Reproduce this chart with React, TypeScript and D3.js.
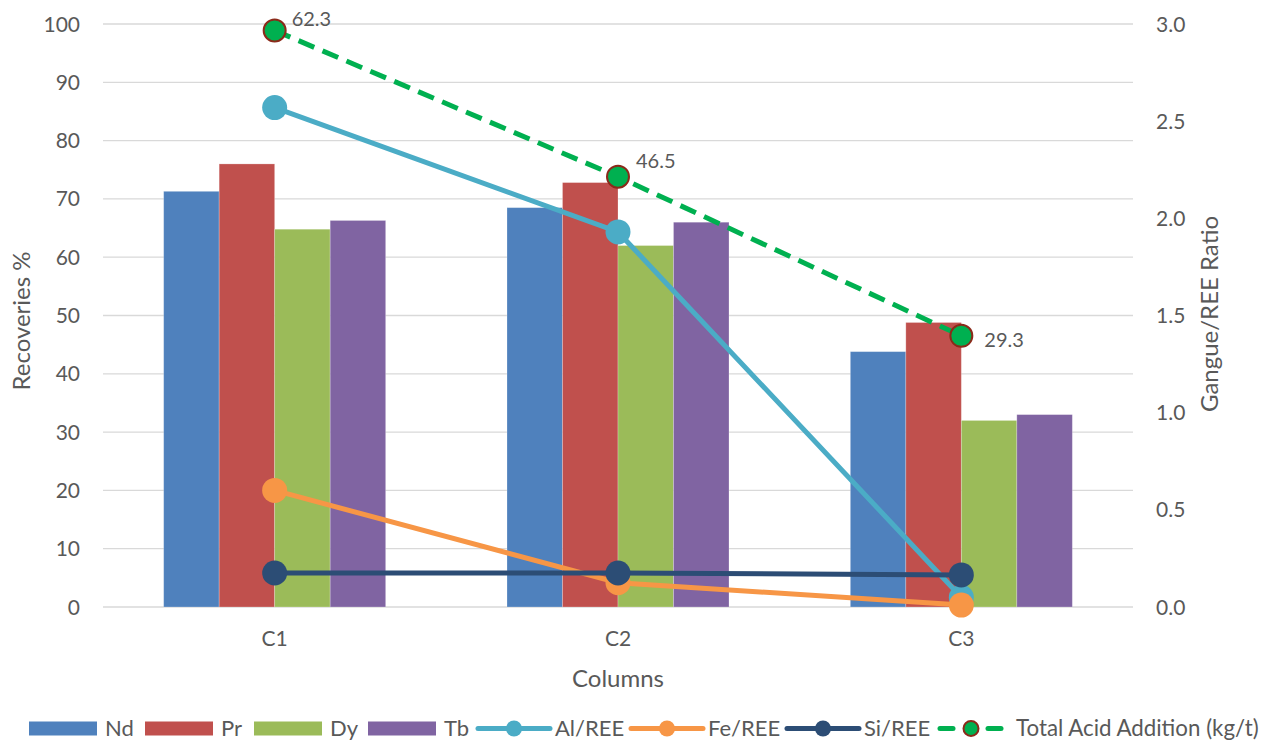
import React from "react";
import * as d3 from "d3";

const categories = ["C1", "C2", "C3"];
const barSeries = ["Nd", "Pr", "Dy", "Tb"];
const ndValues = [71.3, 68.5, 43.8];
const prValues = [76.0, 72.8, 48.8];
const dyValues = [64.8, 62.0, 32.0];
const tbValues = [66.3, 66.0, 33.0];
const alRee = [2.57, 1.93, 0.05];
const feRee = [0.6, 0.125, 0.01];
const siRee = [0.175, 0.175, 0.165];
const totalAcid = [62.3, 46.5, 29.3];
const leftTicks = [0, 10, 20, 30, 40, 50, 60, 70, 80, 90, 100];
const rightTicks = [0, 0.5, 1.0, 1.5, 2.0, 2.5, 3.0];

const barColors = ["#4F81BD", "#C0504D", "#9BBB59", "#8064A2"];
const barData = [ndValues, prValues, dyValues, tbValues];

const W = 1276;
const H = 740;
const plotL = 103;
const plotR = 1133;
const plotT = 24;
const plotB = 607;
const font = "Lato, 'Open Sans', sans-serif";
const textColor = "#595959";
// label offsets for data labels (layout only)
const labelDx = [17, 18, 23];
const labelDy = [-12, -16, 4];

export default function App() {
  const x = d3.scaleBand<string>().domain(categories).range([plotL, plotR]);
  const bw = x.bandwidth();
  const xs = d3
    .scaleBand<string>()
    .domain(barSeries)
    .range([bw / 2 - 111, bw / 2 + 111]);
  const yL = d3.scaleLinear().domain([0, 100]).range([plotB, plotT]);
  const yR = d3.scaleLinear().domain([0, 3]).range([plotB, plotT]);
  const yAcid = d3.scaleLinear().domain([0, 63]).range([plotB, plotT]);
  const cx = (c: string) => (x(c) as number) + bw / 2;

  const lineR = d3
    .line<number>()
    .x((_, i) => cx(categories[i]))
    .y((d) => yR(d));
  const lineA = d3
    .line<number>()
    .x((_, i) => cx(categories[i]))
    .y((d) => yAcid(d));

  const ratioLines = [
    { name: "Al/REE", data: alRee, color: "#4BACC6" },
    { name: "Fe/REE", data: feRee, color: "#F79646" },
    { name: "Si/REE", data: siRee, color: "#2C4D75" },
  ];

  const legendY = 728.5;
  const rectLegend = [
    { name: "Nd", x: 29, color: barColors[0] },
    { name: "Pr", x: 145, color: barColors[1] },
    { name: "Dy", x: 254, color: barColors[2] },
    { name: "Tb", x: 368, color: barColors[3] },
  ];
  const lineLegend = [
    { name: "Al/REE", x: 478, color: "#4BACC6" },
    { name: "Fe/REE", x: 631, color: "#F79646" },
    { name: "Si/REE", x: 787, color: "#2C4D75" },
  ];

  return (
    <svg width={W} height={H} style={{ position: "absolute", left: 0, top: 0, background: "#fff" }}>
      {leftTicks.map((t) => (
        <line key={"g" + t} x1={plotL} x2={plotR} y1={yL(t)} y2={yL(t)} stroke="#D9D9D9" strokeWidth={1.3} />
      ))}
      {leftTicks.map((t) => (
        <text key={"l" + t} x={80} y={yL(t)} dy="0.36em" textAnchor="end" fontFamily={font} fontSize={21} fill={textColor}>
          {t}
        </text>
      ))}
      {rightTicks.map((t) => (
        <text key={"r" + t} x={1156} y={yR(t)} dy="0.36em" textAnchor="start" fontFamily={font} fontSize={21} fill={textColor}>
          {t.toFixed(1)}
        </text>
      ))}
      {categories.map((c, ci) =>
        barSeries.map((s, si) => {
          const v = barData[si][ci];
          return (
            <rect
              key={c + s}
              x={(x(c) as number) + (xs(s) as number)}
              y={yL(v)}
              width={xs.bandwidth()}
              height={yL(0) - yL(v)}
              fill={barColors[si]}
              stroke="#ffffff"
              strokeOpacity={0.3}
              strokeWidth={0.8}
            />
          );
        })
      )}
      {categories.map((c) => (
        <text key={"c" + c} x={cx(c)} y={646} textAnchor="middle" fontFamily={font} fontSize={21} fill={textColor}>
          {c}
        </text>
      ))}
      {ratioLines.map((l) => (
        <g key={l.name}>
          <path d={lineR(l.data) as string} fill="none" stroke={l.color} strokeWidth={5} />
          {l.data.map((d, i) => (
            <circle key={i} cx={cx(categories[i])} cy={yR(d)} r={12.5} fill={l.color} />
          ))}
        </g>
      ))}
      <path d={lineA(totalAcid) as string} fill="none" stroke="#00B050" strokeWidth={5} strokeDasharray="17 9" />
      {totalAcid.map((d, i) => (
        <g key={"a" + i}>
          <circle cx={cx(categories[i])} cy={yAcid(d)} r={11} fill="#00B050" stroke="#8B2A1A" strokeWidth={2} />
          <text x={cx(categories[i]) + labelDx[i]} y={yAcid(d) + labelDy[i]} dy="0.36em" fontFamily={font} fontSize={20} fill={textColor}>
            {d.toFixed(1)}
          </text>
        </g>
      ))}
      <text transform={`translate(30, 321) rotate(-90)`} textAnchor="middle" fontFamily={font} fontSize={24} fill={textColor}>
        Recoveries %
      </text>
      <text transform={`translate(1218, 314) rotate(-90)`} textAnchor="middle" fontFamily={font} fontSize={24} fill={textColor}>
        Gangue/REE Ratio
      </text>
      <text x={618} y={687} textAnchor="middle" fontFamily={font} fontSize={24} fill={textColor}>
        Columns
      </text>
      {rectLegend.map((r) => (
        <g key={"lg" + r.name}>
          <rect x={r.x} y={legendY - 7} width={68} height={14} fill={r.color} />
          <text x={r.x + 76} y={735.5} fontFamily={font} fontSize={22} fill={textColor}>
            {r.name}
          </text>
        </g>
      ))}
      {lineLegend.map((r) => (
        <g key={"ll" + r.name}>
          <line x1={r.x} x2={r.x + 72} y1={legendY} y2={legendY} stroke={r.color} strokeWidth={5} strokeLinecap="round" />
          <circle cx={r.x + 36} cy={legendY} r={8} fill={r.color} />
          <text x={r.x + 77} y={735.5} fontFamily={font} fontSize={22} fill={textColor}>
            {r.name}
          </text>
        </g>
      ))}
      <g>
        <line x1={940} x2={953} y1={legendY} y2={legendY} stroke="#00B050" strokeWidth={5} strokeLinecap="round" />
        <line x1={988} x2={1001} y1={legendY} y2={legendY} stroke="#00B050" strokeWidth={5} strokeLinecap="round" />
        <circle cx={971} cy={legendY} r={7.5} fill="#00B050" stroke="#8B2A1A" strokeWidth={2} />
        <text x={1016} y={735.5} fontFamily={font} fontSize={22.3} fill={textColor}>
          Total Acid Addition (kg/t)
        </text>
      </g>
    </svg>
  );
}
